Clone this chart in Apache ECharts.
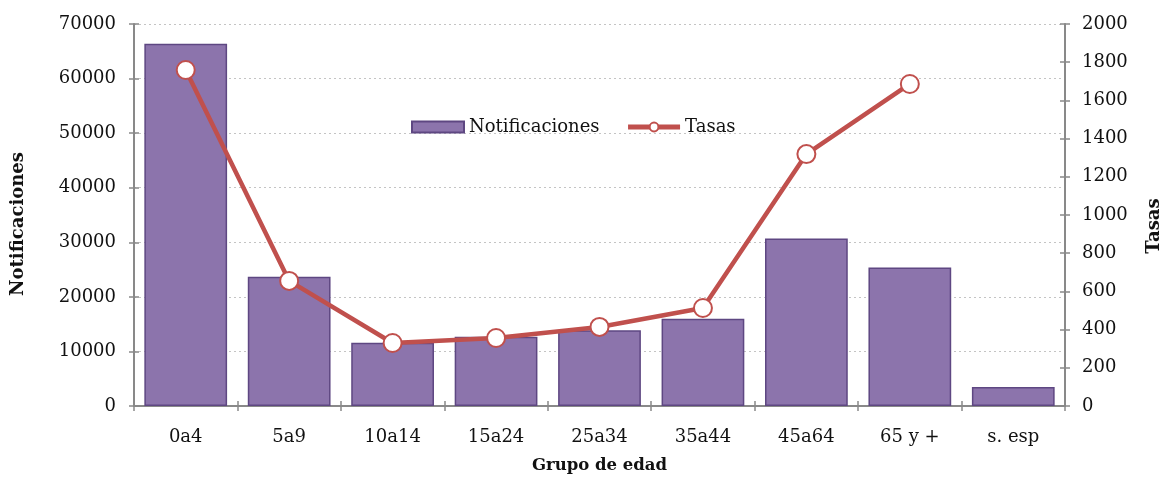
<!DOCTYPE html>
<html>
<head>
<meta charset="utf-8">
<script src="https://cdn.jsdelivr.net/npm/echarts@6/dist/echarts.min.js"></script>
<style>html,body{margin:0;padding:0;background:#fff}#c{width:1163px;height:477px}</style>
</head>
<body>
<div id="c"></div>
<script>
const categories = ['0a4', '5a9', '10a14', '15a24', '25a34', '35a44', '45a64', '65 y +', 's. esp'];
const notificaciones = [66400, 23700, 11600, 12700, 13900, 16000, 30700, 25400, 3500];
const tasas = [1759, 655, 330, 356, 414, 513, 1319, 1686, null];

const FONT = 'DejaVu Serif';
const FS = 18;
const axisGray = '#898989';
const chart = echarts.init(document.getElementById('c'));
const plain = v => String(v);
chart.setOption({
  animation: false,
  textStyle: { fontFamily: FONT },
  grid: { left: 134, right: 98, top: 24, bottom: 71, containLabel: false, outerBoundsMode: 'none' },
  legend: {
    left: 406, top: 113,
    itemWidth: 52, itemHeight: 11, itemGap: 26,
    textStyle: { fontFamily: FONT, fontSize: FS, color: '#111' },
    data: [
      { name: 'Notificaciones', icon: 'rect' },
      { name: 'Tasas', lineStyle: { width: 5 } }
    ]
  },
  xAxis: [{
    type: 'category', data: categories,
    name: 'Grupo de edad', nameLocation: 'middle', nameGap: 51,
    nameTextStyle: { fontFamily: FONT, fontSize: 16.5, fontWeight: 'bold', color: '#111' },
    axisLine: { lineStyle: { color: axisGray, width: 2 } },
    axisTick: { show: true, length: 5, interval: 0, lineStyle: { color: axisGray, width: 1.5 } },
    axisLabel: { color: '#111', fontFamily: FONT, fontSize: FS, margin: 22, interval: 0 }
  }, {
    type: 'category', data: categories, position: 'bottom',
    axisLine: { show: false },
    axisTick: { show: true, inside: true, length: 5, interval: 0, lineStyle: { color: axisGray, width: 1.5 } },
    axisLabel: { show: false }
  }],
  yAxis: [{
    type: 'value', min: 0, max: 70000, interval: 10000, position: 'left',
    name: 'Notificaciones', nameLocation: 'middle', nameGap: 107, nameRotate: 90,
    nameTextStyle: { fontFamily: FONT, fontSize: FS, fontWeight: 'bold', color: '#111', padding: [0, 18, 0, 0] },
    axisLine: { show: true, lineStyle: { color: axisGray, width: 2 } },
    axisTick: { show: true, length: 5, lineStyle: { color: axisGray, width: 1.5 } },
    axisLabel: { color: '#111', fontFamily: FONT, fontSize: FS, margin: 18, formatter: plain },
    splitLine: { show: true, lineStyle: { color: '#c4c4c4', type: [2, 3], width: 1.2 } }
  }, {
    type: 'value', min: 0, max: 2000, interval: 200, position: 'right',
    name: 'Tasas', nameLocation: 'middle', nameGap: 80, nameRotate: 90,
    nameTextStyle: { fontFamily: FONT, fontSize: FS, fontWeight: 'bold', color: '#111', padding: [0, 22, 0, 0] },
    axisLine: { show: true, lineStyle: { color: axisGray, width: 2 } },
    axisTick: { show: true, length: 5, lineStyle: { color: axisGray, width: 1.5 } },
    axisLabel: { color: '#111', fontFamily: FONT, fontSize: FS, margin: 17, formatter: plain },
    splitLine: { show: false }
  }, {
    type: 'value', min: 0, max: 70000, interval: 10000, position: 'left',
    axisLine: { show: false }, splitLine: { show: false }, axisLabel: { show: false },
    axisTick: { show: true, inside: true, length: 5, lineStyle: { color: axisGray, width: 1.5 } }
  }, {
    type: 'value', min: 0, max: 2000, interval: 200, position: 'right',
    axisLine: { show: false }, splitLine: { show: false }, axisLabel: { show: false },
    axisTick: { show: true, inside: true, length: 5, lineStyle: { color: axisGray, width: 1.5 } }
  }],
  series: [{
    name: 'Notificaciones', type: 'bar', data: notificaciones,
    xAxisIndex: 0, yAxisIndex: 0, barCategoryGap: '20%',
    itemStyle: { color: '#8C74AC', borderColor: '#5E4782', borderWidth: 1.5 }
  }, {
    name: 'Tasas', type: 'line', data: tasas,
    xAxisIndex: 0, yAxisIndex: 1,
    symbol: 'circle', symbolSize: 18,
    lineStyle: { color: '#C0504D', width: 4.5 },
    itemStyle: { color: '#fff', borderColor: '#C0504D', borderWidth: 2 },
    z: 5
  }]
});
</script>
</body>
</html>
